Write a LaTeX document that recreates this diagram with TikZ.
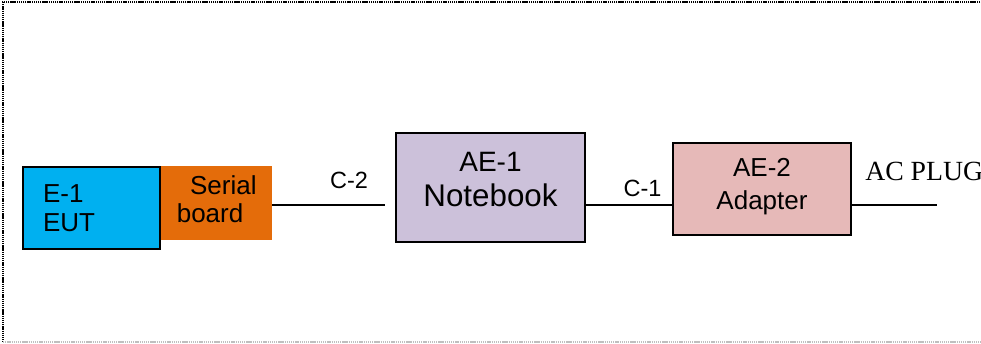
\documentclass[tikz,border=0pt]{standalone}
\usepackage{fontspec}
\setmainfont{Liberation Sans}
\newfontfamily\plugfont{Liberation Serif}
\usetikzlibrary{positioning}
\definecolor{eutblue}{HTML}{00B0F0}
\definecolor{boardorange}{HTML}{E46C0A}
\definecolor{nblilac}{HTML}{CCC1DA}
\definecolor{adpink}{HTML}{E6B9B8}

\begin{document}
\begin{tikzpicture}[x=0.75pt,y=-0.75pt,
        every node/.style={inner sep=0pt},
        unitbox/.style={draw=black, line width=1.4pt},
        eutbox/.style={unitbox, fill=eutblue,
            minimum width=102.75pt, minimum height=61.5pt,
            text width=72.75pt, align=left,
            font=\fontsize{19.5}{21.75}\selectfont},
        serialbox/.style={fill=boardorange,
            minimum width=83.25pt, minimum height=55.5pt, align=left,
            font=\fontsize{19.5}{21}\selectfont},
        nbbox/.style={unitbox, fill=nblilac,
            minimum width=141.75pt, minimum height=81.75pt, align=center,
            font=\fontsize{21}{26.25}\selectfont},
        adbox/.style={unitbox, fill=adpink,
            minimum width=133.5pt, minimum height=69pt, align=center,
            font=\fontsize{19.5}{25}\selectfont},
        cable/.style={line width=1pt},
        cablelabel/.style={anchor=base, font=\fontsize{17.6}{20}\selectfont},
        frameline/.style={line width=1pt, dash pattern=on 1pt off 0.6pt}
    ]
    \useasboundingbox (0,0) rectangle (981,343);
    % dotted frame, right side runs off the page
    \draw[frameline] (995,2) -- (3,2) -- (3,342);
    \draw[frameline, black!25] (3,342) -- (995,342);

    \node[eutbox] (eut) at (91.5,208) {E-1\\EUT};
    \node[serialbox, below right=0pt and 0pt of eut.north east] (serial)
        {\hspace*{10pt}Serial\\board\rule[-6pt]{0pt}{6pt}};
    \node[nbbox] (nb) at (490.5,187.5)
        {AE-1\\{\fontsize{23.5}{26.25}\selectfont Notebook}\rule[-12.5pt]{0pt}{12.5pt}};
    \node[adbox] (ad) at (762,189) {AE-2\\Adapter\rule[-7.3pt]{0pt}{7.3pt}};

    % cables
    \coordinate (c2end) at (385,205);
    \coordinate (c1mid) at (630,205);
    \coordinate (plugend) at (937,205);
    \draw[cable] (serial.east |- c2end) -- (c2end);
    \draw[cable] (nb.east |- c1mid) -- (ad.west |- c1mid);
    \draw[cable] (ad.east |- plugend) -- (plugend);

    \node[cablelabel] (c2) at (349,188) {C-2};
    \node[cablelabel] (c1) at (642.5,196.5) {C-1};
    \node[anchor=base west, font=\plugfont\fontsize{20.8}{24}\selectfont] (plug)
        at (865,180) {AC PLUG};
\end{tikzpicture}
\end{document}
